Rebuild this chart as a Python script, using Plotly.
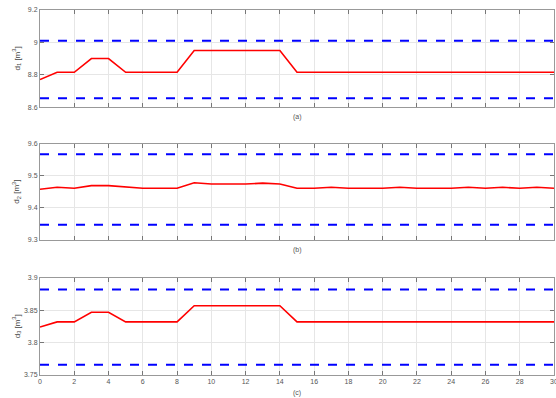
import plotly.graph_objects as go
from plotly.subplots import make_subplots

t = list(range(31))
d1 = [8.77, 8.815, 8.815, 8.9, 8.9, 8.815, 8.815, 8.815, 8.815,
      8.95, 8.95, 8.95, 8.95, 8.95, 8.95] + [8.815] * 16
d1_upper = 9.01
d1_lower = 8.655

d2 = [9.458, 9.464, 9.461, 9.469, 9.469, 9.465, 9.461, 9.461, 9.461,
      9.478, 9.474, 9.474, 9.474, 9.477, 9.474,
      9.461, 9.461, 9.464, 9.461, 9.461, 9.461, 9.464, 9.461, 9.461,
      9.461, 9.464, 9.461, 9.464, 9.461, 9.464, 9.461]
d2_upper = 9.567
d2_lower = 9.347

d3 = [3.824, 3.832, 3.832, 3.847, 3.847, 3.832, 3.832, 3.832, 3.832,
      3.857, 3.857, 3.857, 3.857, 3.857, 3.857] + [3.832] * 16
d3_upper = 3.882
d3_lower = 3.766

yticks = [[8.6, 8.8, 9.0, 9.2], [9.3, 9.4, 9.5, 9.6], [3.75, 3.8, 3.85, 3.9]]
yticklabels = [["8.6", "8.8", "9", "9.2"], ["9.3", "9.4", "9.5", "9.6"],
               ["3.75", "3.8", "3.85", "3.9"]]
yranges = [[8.6, 9.2], [9.3, 9.6], [3.75, 3.9]]
xticks = list(range(0, 31, 2))
ylabels = ["d<sub>1</sub> [m<sup>3</sup>]", "d<sub>2</sub> [m<sup>3</sup>]",
           "d<sub>3</sub> [m<sup>3</sup>]"]
captions = ["(a)", "(b)", "(c)"]

series = [(d1, d1_upper, d1_lower), (d2, d2_upper, d2_lower), (d3, d3_upper, d3_lower)]

fig = make_subplots(rows=3, cols=1)
for i, (d, up, lo) in enumerate(series):
    r = i + 1
    fig.add_trace(go.Scatter(x=t, y=[up] * len(t), mode="lines",
                             line=dict(color="#0000ff", width=2, dash="dash")), row=r, col=1)
    fig.add_trace(go.Scatter(x=t, y=[lo] * len(t), mode="lines",
                             line=dict(color="#0000ff", width=2, dash="dash")), row=r, col=1)
    fig.add_trace(go.Scatter(x=t, y=d, mode="lines",
                             line=dict(color="#ff0000", width=1.6)), row=r, col=1)

domains = [[0.734, 1.0], [0.370, 0.634], [0.0, 0.266]]
for i in range(3):
    r = i + 1
    fig.update_xaxes(row=r, col=1, range=[0, 30], tickvals=xticks,
                     showticklabels=(r == 3), ticks="inside", ticklen=4,
                     tickcolor="#777", showline=True, linecolor="#999", linewidth=1,
                     mirror="ticks", showgrid=True, gridcolor="#e6e6e6", zeroline=False,
                     ticklabeloverflow="allow", automargin=False,
                     tickfont=dict(size=7, color="#555", family="Arial"))
    fig.update_yaxes(row=r, col=1, range=yranges[i], tickvals=yticks[i],
                     ticktext=yticklabels[i], ticks="inside", ticklen=4,
                     tickcolor="#777", showline=True, linecolor="#999", linewidth=1,
                     mirror="ticks", showgrid=True, gridcolor="#e6e6e6", zeroline=False,
                     domain=domains[i], automargin=False,
                     tickfont=dict(size=7, color="#555", family="Arial"))

ann = []
ylab_y = [0.867, 0.502, 0.133]
cap_y = [0.707, 0.342, -0.049]
for i in range(3):
    ann.append(dict(text=ylabels[i], xref="paper", yref="paper", x=-0.045, y=ylab_y[i],
                    textangle=-90, showarrow=False, xanchor="center", yanchor="middle",
                    font=dict(size=8, color="#444", family="Arial")))
    ann.append(dict(text=captions[i], xref="paper", yref="paper", x=0.5, y=cap_y[i],
                    showarrow=False, xanchor="center", yanchor="middle",
                    font=dict(size=7, color="#555", family="Arial")))

fig.update_layout(width=556, height=398, showlegend=False,
                  margin=dict(l=40, r=2, t=10, b=23),
                  plot_bgcolor="white", paper_bgcolor="white",
                  annotations=ann)

fig.write_html("out.html", config={"displayModeBar": False},
               post_script="document.body.style.margin='0';document.body.style.padding='0';")
